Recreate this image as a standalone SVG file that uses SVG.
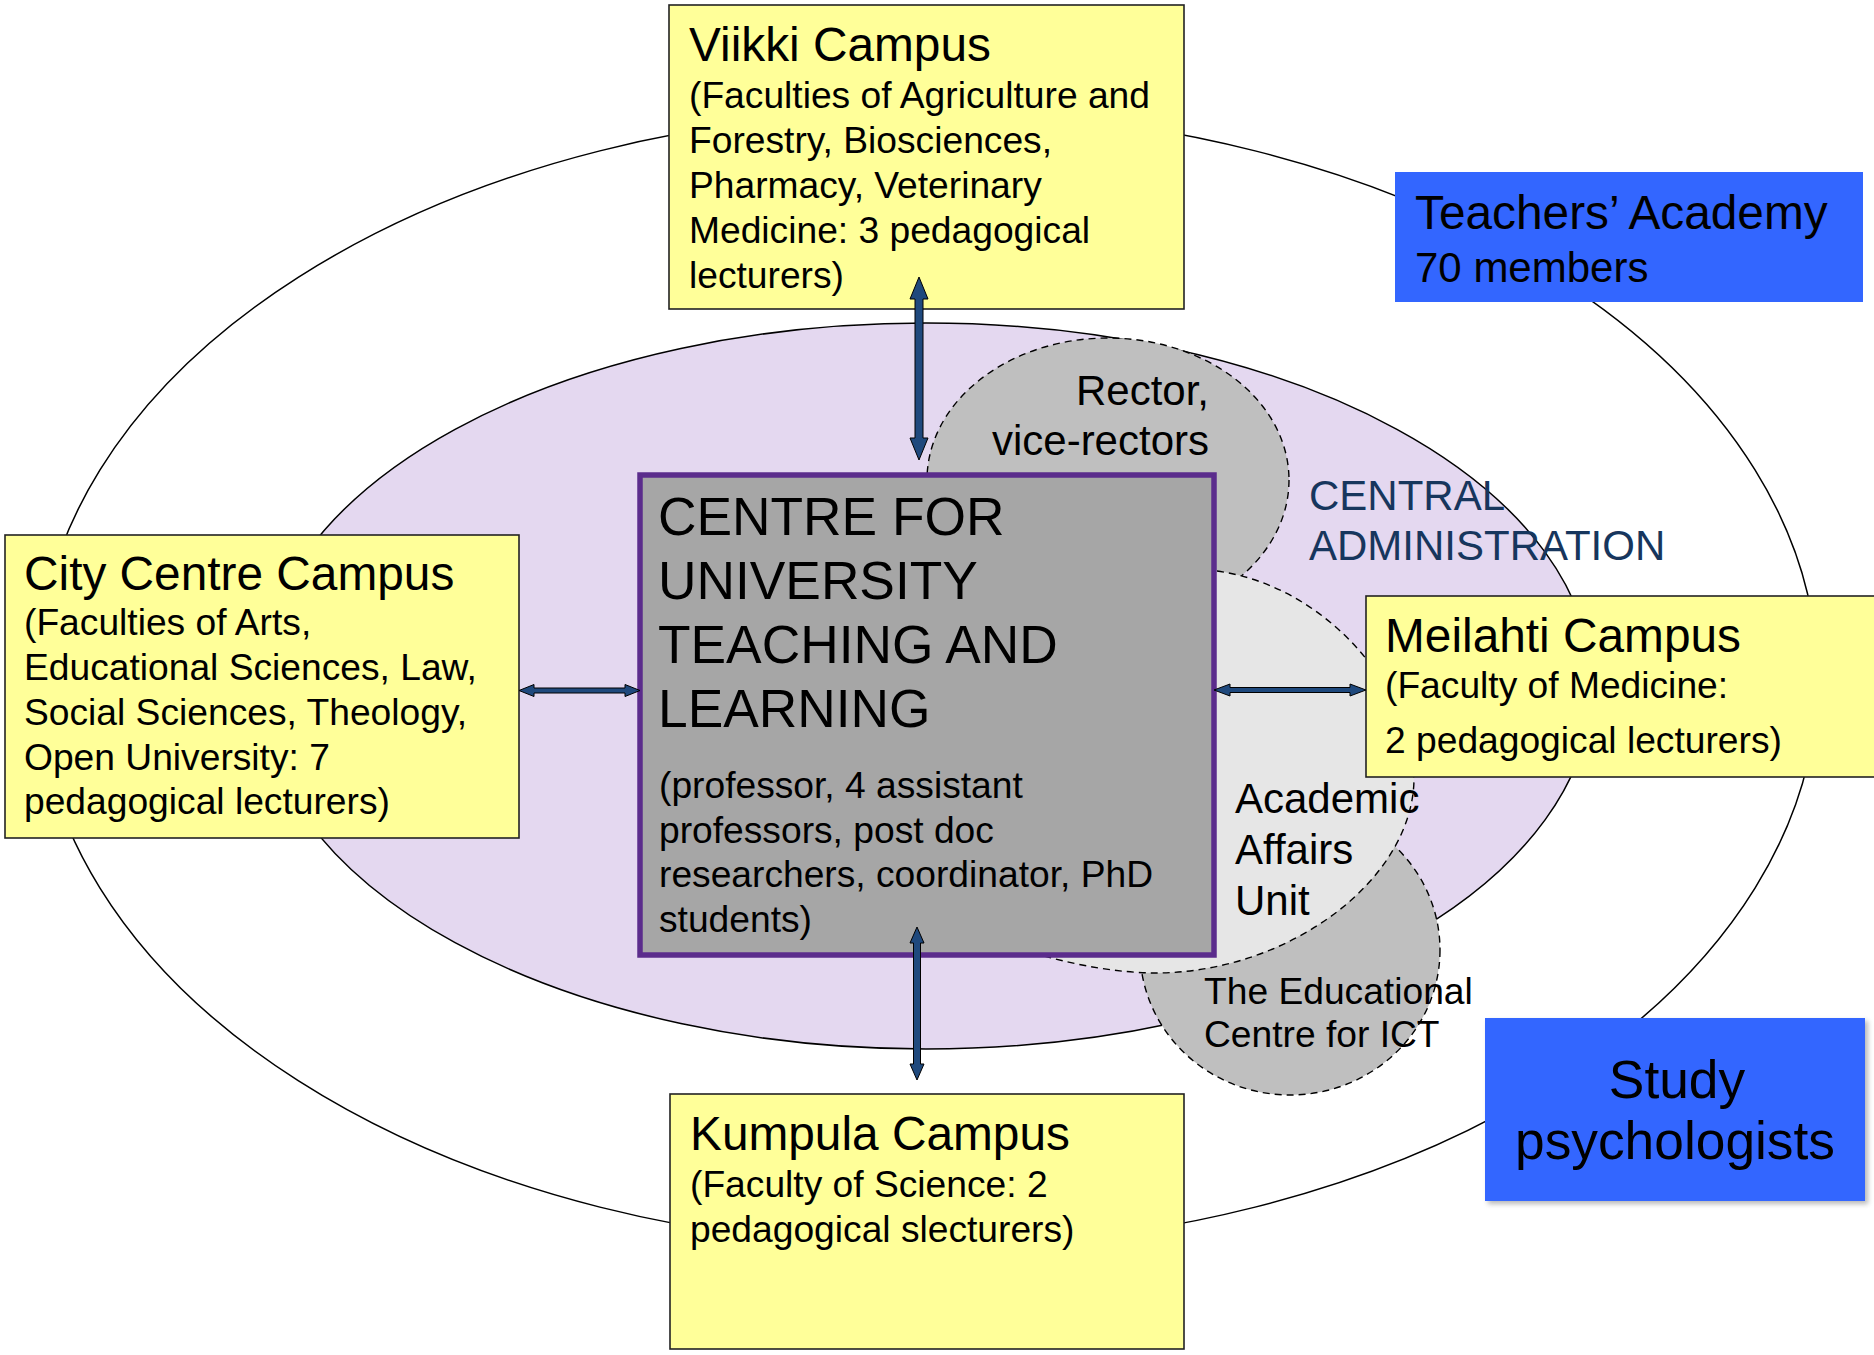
<svg xmlns="http://www.w3.org/2000/svg" width="1874" height="1355" viewBox="0 0 1874 1355">
  <style>
    text { font-family: "Liberation Sans", Arial, sans-serif; fill: #000; }
    .campus { fill: #FFFF99; stroke: #222; stroke-width: 1.6; }
    .blue { fill: #3366FF; }
    .dash { stroke: #000; stroke-width: 1.4; stroke-dasharray: 7 5; }
    .arrow { fill: #1F497D; stroke: #000; stroke-width: 1; stroke-linejoin: miter; }
    .t48 { font-size: 47.8px; }
    .t37 { font-size: 37.2px; }
    .t42 { font-size: 42px; }
    .t53 { font-size: 53.3px; }
    .admin { fill: #17365D; }
  </style>
  <defs>
    <filter id="shadow" x="-10%" y="-10%" width="130%" height="130%">
      <feGaussianBlur stdDeviation="2.5"/>
    </filter>
  </defs>

  <rect x="0" y="0" width="1874" height="1355" fill="#fff"/>

  <!-- outer ring: university -->
  <g id="outer-ring">
    <ellipse cx="927.5" cy="679" rx="890" ry="568" fill="#fff" stroke="#000" stroke-width="1.5"/>
  </g>

  <!-- inner ring: central administration -->
  <g id="central-administration">
    <ellipse cx="926" cy="686" rx="666" ry="363" fill="#E4D8F0" stroke="#000" stroke-width="1.5"/>
    <text class="t42 admin" x="1309" y="510">CENTRAL</text>
    <text class="t42 admin" x="1309" y="560">ADMINISTRATION</text>
  </g>

  <!-- rector and vice-rectors -->
  <g id="rector">
    <ellipse cx="1108" cy="480" rx="181" ry="142" fill="#BFBFBF" class="dash"/>
    <text class="t42" text-anchor="end" x="1209" y="405">Rector,</text>
    <text class="t42" text-anchor="end" x="1209" y="455">vice-rectors</text>
  </g>

  <!-- educational centre for ICT -->
  <g id="ict-centre">
    <ellipse cx="1290" cy="950" rx="150" ry="145" fill="#BFBFBF" class="dash"/>
  </g>

  <!-- academic affairs unit -->
  <g id="academic-affairs">
    <path d="M1217,571 C1320,585 1410,680 1414,780 C1412,880 1290,972 1157,973 C1120,973 1080,966 1040,955 C960,930 960,620 1100,585 C1150,572 1190,569 1217,571 Z" fill="#E6E6E6" class="dash"/>
  </g>

  <!-- centre for university teaching and learning -->
  <g id="centre">
    <rect x="640" y="475" width="574" height="480" fill="#A6A6A6" stroke="#5B2C8C" stroke-width="5.5"/>
    <text class="t53" x="658" y="535">CENTRE FOR</text>
    <text class="t53" x="658" y="599">UNIVERSITY</text>
    <text class="t53" x="658" y="663">TEACHING AND</text>
    <text class="t53" x="658" y="727">LEARNING</text>
    <text class="t37" x="659" y="798">(professor, 4 assistant</text>
    <text class="t37" x="659" y="843">professors, post doc</text>
    <text class="t37" x="659" y="887">researchers, coordinator, PhD</text>
    <text class="t37" x="659" y="932">students)</text>
  </g>

  <!-- campuses -->
  <g id="viikki">
    <rect class="campus" x="669" y="5" width="515" height="304"/>
    <text class="t48" x="689" y="61">Viikki Campus</text>
    <text class="t37" x="689" y="108">(Faculties of Agriculture and</text>
    <text class="t37" x="689" y="153">Forestry, Biosciences,</text>
    <text class="t37" x="689" y="198">Pharmacy, Veterinary</text>
    <text class="t37" x="689" y="243">Medicine: 3 pedagogical</text>
    <text class="t37" x="689" y="288">lecturers)</text>
  </g>

  <g id="city-centre">
    <rect class="campus" x="5" y="535" width="514" height="303"/>
    <text class="t48" x="24" y="590">City Centre Campus</text>
    <text class="t37" x="24" y="635">(Faculties of Arts,</text>
    <text class="t37" x="24" y="680">Educational Sciences, Law,</text>
    <text class="t37" x="24" y="725">Social Sciences, Theology,</text>
    <text class="t37" x="24" y="770">Open University: 7</text>
    <text class="t37" x="24" y="814">pedagogical lecturers)</text>
  </g>

  <g id="meilahti">
    <rect class="campus" x="1366" y="596" width="520" height="181"/>
    <text class="t48" x="1385" y="652">Meilahti Campus</text>
    <text class="t37" x="1385" y="698">(Faculty of Medicine:</text>
    <text class="t37" x="1385" y="753">2 pedagogical lecturers)</text>
  </g>

  <g id="kumpula">
    <rect class="campus" x="670" y="1094" width="514" height="255"/>
    <text class="t48" x="690" y="1150">Kumpula Campus</text>
    <text class="t37" x="690" y="1197">(Faculty of Science: 2</text>
    <text class="t37" x="690" y="1242">pedagogical slecturers)</text>
  </g>

  <!-- connectors: double-headed block arrows -->
  <g id="connectors">
    <polygon class="arrow" points="919,277 928,299 923,299 923,438 928,438 919,460 910,438 915,438 915,299 910,299"/>
    <polygon class="arrow" points="917,927 924,943 920.5,943 920.5,1064 924,1064 917,1080 910,1064 913.5,1064 913.5,943 910,943"/>
    <polygon class="arrow" points="519,690.5 534,684.5 534,688 625,688 625,684.5 640,690.5 625,696.5 625,693 534,693 534,696.5"/>
    <polygon class="arrow" points="1214,690 1230,684 1230,687.5 1350,687.5 1350,684 1366,690 1350,696 1350,692.5 1230,692.5 1230,696"/>
  </g>

  <!-- unit labels drawn above the shapes -->
  <g id="academic-affairs-label">
    <text class="t42" x="1235" y="813">Academic</text>
    <text class="t42" x="1235" y="864">Affairs</text>
    <text class="t42" x="1235" y="915">Unit</text>
  </g>
  <g id="ict-label">
    <text class="t37" x="1204" y="1004">The Educational</text>
    <text class="t37" x="1204" y="1047">Centre for ICT</text>
  </g>

  <!-- teachers' academy -->
  <g id="teachers-academy">
    <rect class="blue" x="1395" y="172" width="468" height="130"/>
    <text class="t48" x="1415" y="229">Teachers’ Academy</text>
    <text class="t42" x="1415" y="282">70 members</text>
  </g>

  <!-- study psychologists -->
  <g id="study-psychologists">
    <rect x="1488" y="1021" width="380" height="183" fill="#7f7f7f" opacity="0.55" filter="url(#shadow)"/>
    <rect class="blue" x="1485" y="1018" width="380" height="183"/>
    <text class="t53" text-anchor="middle" x="1677" y="1098">Study</text>
    <text class="t53" text-anchor="middle" x="1675" y="1159">psychologists</text>
  </g>
</svg>
